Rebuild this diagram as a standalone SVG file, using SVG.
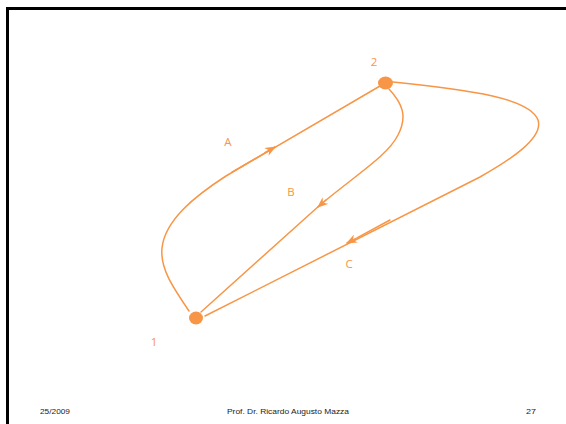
<svg xmlns="http://www.w3.org/2000/svg" width="566" height="424" viewBox="0 0 566 424">
<style>
.edge{fill:none;stroke:#F79646;stroke-width:1.5;stroke-linecap:round}
.node{fill:#F79646}
.lbl{font-family:"Open Sans","Liberation Sans",sans-serif;font-size:11.5px;fill:#F79646;text-anchor:middle}
.foot{font-family:"Liberation Sans",sans-serif;font-size:7.5px;fill:#222}
</style>
<defs>
<marker id="arr" viewBox="0 0 10 8" refX="9" refY="4" markerWidth="11" markerHeight="9" markerUnits="userSpaceOnUse" orient="auto">
<path d="M0,0 L10,4 L0,8 L3,4 z" fill="#F79646"/>
</marker>
</defs>
<rect x="0" y="0" width="566" height="424" fill="#fff"/>
<rect x="7.5" y="8.5" width="620" height="500" fill="#fff" stroke="#000" stroke-width="3"/>
<g id="connectors">
<g id="edge-A">
<path class="edge" d="M189,311 C172,286 160,268 162,248 C165,220 195,196 226,176 L380,86"/>
<path class="edge" d="M232,172.2 L268,151.2"/>
<line class="edge" x1="265" y1="152.7" x2="275" y2="147" marker-end="url(#arr)"/>
</g>
<g id="edge-B">
<path class="edge" d="M389,89 C402,103 408,116 398,135 C388,155 360,172 320,205 L201,312"/>
<line class="edge" x1="326" y1="200" x2="318" y2="207" marker-end="url(#arr)"/>
</g>
<g id="edge-C">
<path class="edge" d="M393,82 C470,90 530,98 538,120 C544,138 510,160 480,177 L205,316"/>
<path class="edge" d="M390,220 L357,237.8"/>
<line class="edge" x1="356" y1="238.5" x2="347" y2="243" marker-end="url(#arr)"/>
</g>
</g>
<g id="node-1">
<ellipse class="node" cx="196" cy="318" rx="7" ry="6.5"/>
<text class="lbl" x="154" y="346">1</text>
</g>
<g id="node-2">
<ellipse class="node" cx="385.5" cy="83" rx="7.5" ry="6.5"/>
<text class="lbl" x="374" y="66">2</text>
</g>
<g id="labels">
<text class="lbl" x="228" y="146">A</text>
<text class="lbl" x="291" y="196">B</text>
<text class="lbl" x="349" y="268">C</text>
</g>
<g id="footer">
<text class="foot" x="40" y="413.5" textLength="30" lengthAdjust="spacingAndGlyphs">25/2009</text>
<text class="foot" x="227" y="413.5" textLength="122" lengthAdjust="spacingAndGlyphs">Prof.  Dr. Ricardo Augusto Mazza</text>
<text class="foot" x="526" y="413.5" textLength="10" lengthAdjust="spacingAndGlyphs">27</text>
</g>
</svg>
